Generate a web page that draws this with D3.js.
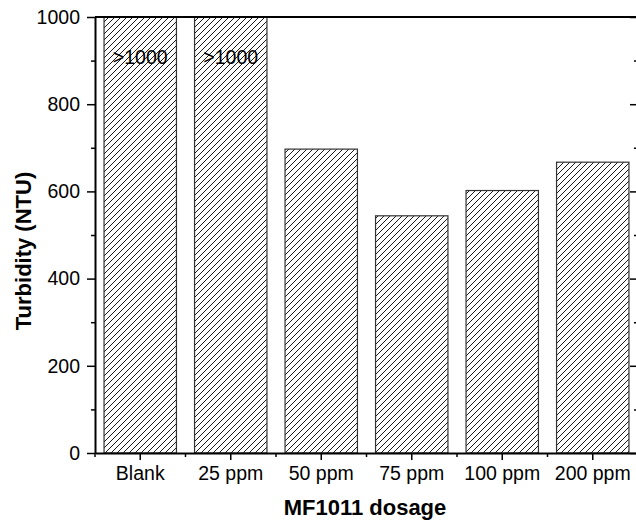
<!DOCTYPE html>
<html>
<head>
<meta charset="utf-8">
<script src="https://cdn.jsdelivr.net/npm/d3@7"></script>
<style>
  body { margin: 0; background: #fff; }
  svg { display: block; }
  svg text { font-family: "Liberation Sans", Arial, sans-serif; }
</style>
</head>
<body>
<div id="chart"></div>
<script>
// Turbidity vs MF1011 dosage
const categories = ["Blank", "25 ppm", "50 ppm", "75 ppm", "100 ppm", "200 ppm"];
const turbidity = [1000, 1000, 697, 544, 602, 667];
const barLabels = [">1000", ">1000", "", "", "", ""];
const yTicks = [0, 200, 400, 600, 800, 1000];
const yMinorTicks = [100, 300, 500, 700, 900];

const width = 636;
const height = 529;
const margin = { top: 17, right: -2, bottom: 76, left: 95 };

const svg = d3.select("#chart").append("svg")
    .attr("width", width)
    .attr("height", height);

// hatch fill
const pattern = svg.append("defs").append("pattern")
    .attr("id", "hatch")
    .attr("patternUnits", "userSpaceOnUse")
    .attr("width", 6)
    .attr("height", 6);
pattern.append("path")
    .attr("d", "M0,6 L6,0 M-1,1 L1,-1 M5,7 L7,5")
    .attr("stroke", "#000")
    .attr("stroke-width", 0.9);

const x = d3.scaleBand()
    .domain(categories)
    .range([margin.left, width - margin.right])
    .paddingInner(0.2)
    .paddingOuter(0.1);

const y = d3.scaleLinear()
    .domain([0, 1000])
    .range([height - margin.bottom, margin.top]);

const x0 = margin.left, x1 = width - margin.right;
const y0 = height - margin.bottom, y1 = margin.top;

// Bars
svg.append("g").selectAll("rect")
    .data(categories)
    .join("rect")
    .attr("x", d => x(d))
    .attr("y", (d, i) => y(turbidity[i]))
    .attr("width", x.bandwidth())
    .attr("height", (d, i) => y(0) - y(turbidity[i]))
    .attr("fill", "url(#hatch)")
    .attr("stroke", "#333")
    .attr("stroke-width", 1.2);

// labels inside the clipped bars
svg.append("g").selectAll("text")
    .data(categories)
    .join("text")
    .attr("x", d => x(d) + x.bandwidth() / 2)
    .attr("y", 63.5)
    .attr("text-anchor", "middle")
    .style("font-size", "19.5px")
    .text((d, i) => barLabels[i]);

// Left axis
const yAxis = svg.append("g")
    .attr("transform", `translate(${x0},0)`)
    .call(d3.axisLeft(y).tickValues(yTicks).tickFormat(d3.format("d"))
        .tickSize(8).tickPadding(7).tickSizeOuter(0));
yAxis.select(".domain").attr("stroke-width", 2);
yAxis.selectAll(".tick line").attr("stroke-width", 1.5);
yAxis.selectAll("text").style("font-size", "19.5px").attr("fill", "#000");
svg.append("g")
    .attr("transform", `translate(${x0},0)`)
    .call(d3.axisLeft(y).tickValues(yMinorTicks).tickSize(4).tickFormat("").tickSizeOuter(0))
    .call(g => g.select(".domain").remove())
    .selectAll("line").attr("stroke-width", 1.5);

// Right axis (inward ticks)
const rAxis = svg.append("g")
    .attr("transform", `translate(${x1},0)`)
    .call(d3.axisLeft(y).tickValues(yTicks).tickSize(8).tickFormat("").tickSizeOuter(0));
rAxis.select(".domain").attr("stroke-width", 2);
rAxis.selectAll(".tick line").attr("stroke-width", 1.5);
svg.append("g")
    .attr("transform", `translate(${x1},0)`)
    .call(d3.axisLeft(y).tickValues(yMinorTicks).tickSize(4).tickFormat("").tickSizeOuter(0))
    .call(g => g.select(".domain").remove())
    .selectAll("line").attr("stroke-width", 1.5);

// Bottom axis
const xAxis = svg.append("g")
    .attr("transform", `translate(0,${y0})`)
    .call(d3.axisBottom(x).tickSize(7).tickPadding(6).tickSizeOuter(0));
xAxis.select(".domain").attr("stroke-width", 2);
xAxis.selectAll(".tick line").attr("stroke-width", 1.5);
xAxis.selectAll("text").style("font-size", "19.5px").attr("fill", "#000");
// minor ticks at category boundaries
const bounds = categories.map(d => x(d) - x.step() * 0.1).concat([x1]);
svg.append("g").selectAll("line")
    .data(bounds)
    .join("line")
    .attr("x1", d => d).attr("x2", d => d)
    .attr("y1", y0).attr("y2", y0 + 4)
    .attr("stroke", "#000")
    .attr("stroke-width", 1.5);

// Top frame line
svg.append("line")
    .attr("x1", x0).attr("x2", x1)
    .attr("y1", y1).attr("y2", y1)
    .attr("stroke", "#000")
    .attr("stroke-width", 2);

// Axis titles
svg.append("text")
    .attr("x", 365)
    .attr("y", 515)
    .attr("text-anchor", "middle")
    .style("font-size", "22px")
    .style("font-weight", "bold")
    .text("MF1011 dosage");

svg.append("text")
    .attr("transform", "rotate(-90)")
    .attr("x", -251)
    .attr("y", 31)
    .attr("text-anchor", "middle")
    .style("font-size", "22px")
    .style("font-weight", "bold")
    .text("Turbidity (NTU)");
</script>
</body>
</html>
